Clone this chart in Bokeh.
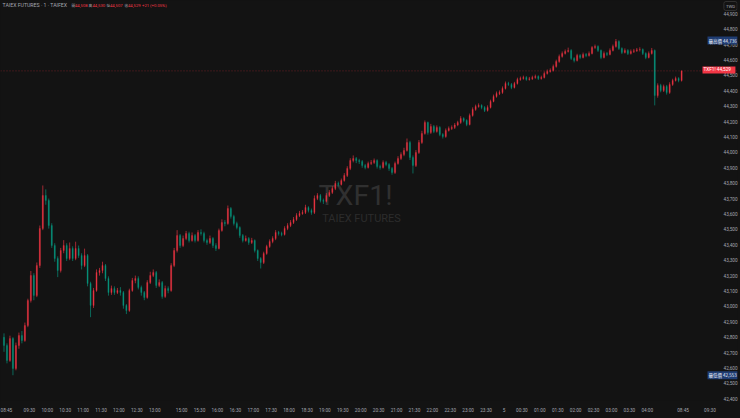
from bokeh.plotting import figure
from bokeh.models import (ColumnDataSource, Range1d, FixedTicker, NumeralTickFormatter,
                          Label, Span, GlobalInlineStyleSheet)
from bokeh.embed import file_html
from bokeh.resources import INLINE

BG = "#131313"
UP = "#f23645"
DOWN = "#089981"
TXT = "#a3a6af"

# ---------------- data: 5-minute candles, TAIEX futures (TXF1!) ----------------
first_open = 42800

day_closes = [42746, 42648, 42791, 42596, 42746, 42811, 42778, 42876, 43038, 43201,
              43071, 43265, 43506, 43720, 43688, 43525, 43395, 43311, 43233, 43363,
              43395, 43311, 43376, 43311, 43376, 43330, 43265, 43330, 43149, 43006,
              43103, 43220, 43233, 43265, 43181, 43090, 43116, 43090, 43103, 43090,
              43006, 42973, 43103, 43168, 43181, 43123, 43090, 43058, 43155, 43201,
              43220, 43136, 43155, 43064, 43116, 43103, 43265, 43363, 43460, 43395]
day_highs = [42825, 42760, 42810, 42800, 42765, 42830, 42840, 42895, 43050, 43230,
             43215, 43285, 43525, 43785, 43760, 43700, 43540, 43410, 43325, 43380,
             43430, 43410, 43415, 43390, 43420, 43395, 43345, 43375, 43340, 43160,
             43120, 43240, 43250, 43290, 43275, 43195, 43135, 43130, 43120, 43125,
             43100, 43015, 43115, 43185, 43200, 43195, 43135, 43100, 43170, 43225,
             43240, 43230, 43175, 43165, 43135, 43130, 43280, 43380, 43495, 43470]
day_lows = [42705, 42630, 42640, 42553, 42585, 42725, 42760, 42770, 42865, 43025,
            43040, 43060, 43250, 43495, 43660, 43505, 43380, 43290, 43190, 43220,
            43345, 43295, 43300, 43295, 43300, 43315, 43240, 43255, 43130, 42930,
            42990, 43095, 43200, 43215, 43165, 43070, 43075, 43075, 43080, 43070,
            42985, 42950, 42965, 43095, 43150, 43110, 43070, 43040, 43050, 43145,
            43190, 43120, 43125, 43050, 43055, 43085, 43095, 43255, 43350, 43380]

night_closes = [43441, 43473, 43428, 43460, 43428, 43480, 43473, 43428, 43415, 43441,
                43395, 43376, 43493, 43545, 43538, 43636, 43584, 43538, 43512, 43460,
                43428, 43441, 43415, 43428, 43363, 43311, 43285, 43343, 43389, 43421,
                43441, 43480, 43473, 43467, 43506, 43525, 43545, 43564, 43590, 43603,
                43610, 43642, 43623, 43610, 43701, 43720, 43688, 43682, 43720, 43740,
                43766, 43798, 43792, 43817, 43850, 43896, 43947, 43960, 43947, 43940,
                43915, 43902, 43928, 43934, 43947, 43908, 43902, 43934, 43921, 43896,
                43869, 43928, 43960, 43986, 44012, 44064, 43967, 43915, 43999, 44064,
                44123, 44194, 44129, 44168, 44136, 44162, 44116, 44103, 44142, 44155,
                44162, 44178, 44194, 44220, 44207, 44181, 44240, 44279, 44298, 44305,
                44292, 44272, 44292, 44331, 44363, 44382, 44389, 44415, 44447, 44441,
                44421, 44447, 44473, 44480, 44486, 44473, 44478, 44486, 44493, 44480,
                44486, 44512, 44525, 44532, 44558, 44590, 44623, 44642, 44655, 44662,
                44610, 44597, 44629, 44616, 44636, 44629, 44642, 44681, 44688, 44662,
                44616, 44642, 44636, 44662, 44688, 44720, 44675, 44649, 44662, 44642,
                44655, 44660, 44666, 44668, 44642, 44616, 44642, 44662, 44369, 44434,
                44402, 44428, 44389, 44441, 44467, 44480, 44467, 44529]
night_highs = [43460, 43490, 43485, 43480, 43470, 43495, 43500, 43485, 43440, 43460,
               43450, 43410, 43505, 43565, 43560, 43655, 43645, 43595, 43550, 43520,
               43470, 43460, 43450, 43445, 43435, 43370, 43320, 43355, 43400, 43435,
               43455, 43495, 43490, 43485, 43520, 43540, 43560, 43580, 43605, 43620,
               43625, 43660, 43650, 43635, 43720, 43735, 43730, 43700, 43735, 43755,
               43780, 43815, 43810, 43830, 43865, 43910, 43962, 43980, 43970, 43958,
               43950, 43925, 43940, 43950, 43960, 43955, 43920, 43948, 43945, 43930,
               43905, 43940, 43975, 44000, 44030, 44090, 44075, 43980, 44015, 44080,
               44140, 44207, 44200, 44185, 44178, 44175, 44170, 44125, 44155, 44168,
               44175, 44190, 44205, 44235, 44228, 44215, 44252, 44292, 44310, 44318,
               44312, 44300, 44305, 44342, 44375, 44395, 44402, 44428, 44460, 44458,
               44450, 44458, 44485, 44492, 44498, 44495, 44490, 44498, 44505, 44500,
               44498, 44525, 44538, 44545, 44570, 44602, 44635, 44655, 44668, 44680,
               44670, 44618, 44640, 44638, 44648, 44645, 44655, 44690, 44700, 44695,
               44668, 44655, 44652, 44675, 44700, 44736, 44728, 44682, 44675, 44670,
               44668, 44672, 44678, 44682, 44675, 44650, 44655, 44678, 44668, 44448,
               44445, 44440, 44438, 44455, 44478, 44492, 44488, 44532]
night_lows = [43385, 43430, 43415, 43420, 43415, 43420, 43460, 43415, 43400, 43405,
              43380, 43360, 43370, 43485, 43520, 43530, 43570, 43525, 43500, 43445,
              43415, 43420, 43400, 43405, 43350, 43295, 43246, 43275, 43335, 43380,
              43410, 43430, 43460, 43455, 43460, 43495, 43515, 43535, 43555, 43580,
              43595, 43600, 43610, 43595, 43600, 43690, 43675, 43665, 43675, 43710,
              43730, 43755, 43778, 43785, 43810, 43840, 43885, 43935, 43930, 43925,
              43900, 43890, 43895, 43918, 43925, 43895, 43888, 43895, 43910, 43880,
              43855, 43860, 43920, 43950, 43975, 44005, 43950, 43863, 43905, 43990,
              44055, 44115, 44115, 44120, 44125, 44128, 44105, 44090, 44095, 44135,
              44145, 44152, 44170, 44185, 44195, 44170, 44175, 44232, 44270, 44290,
              44280, 44262, 44265, 44285, 44325, 44355, 44372, 44380, 44408, 44432,
              44410, 44415, 44440, 44465, 44472, 44465, 44466, 44470, 44478, 44470,
              44472, 44480, 44505, 44518, 44525, 44550, 44582, 44615, 44635, 44648,
              44600, 44584, 44590, 44605, 44610, 44618, 44622, 44636, 44672, 44652,
              44605, 44610, 44625, 44630, 44655, 44680, 44665, 44638, 44642, 44632,
              44635, 44645, 44652, 44655, 44632, 44605, 44610, 44635, 44305, 44355,
              44390, 44392, 44375, 44380, 44432, 44460, 44455, 44460]

# y axis ticks
y_ticks = [42400, 42500, 42600, 42700, 42800, 42900, 43000, 43100, 43200, 43300,
           43400, 43500, 43600, 43700, 43800, 43900, 44000, 44100, 44200, 44300,
           44400, 44500, 44600, 44700, 44800, 44900]

# time axis ticks: (clock, session, label)
tick_clock = ["08:45", "09:30", "10:00", "10:30", "11:00", "11:30", "12:00", "12:30", "13:00",
              "15:00", "15:30", "16:00", "16:30", "17:00", "17:30", "18:00", "18:30", "19:00",
              "19:30", "20:00", "20:30", "21:00", "21:30", "22:00", "22:30", "23:00", "23:30",
              "00:00", "00:30", "01:00", "01:30", "02:00", "02:30", "03:00", "03:30", "04:00",
              "08:45", "09:30"]
tick_session = ["day1"] * 9 + ["night"] * 27 + ["day2"] * 2
tick_labels = ["08:45", "09:30", "10:00", "10:30", "11:00", "11:30", "12:00", "12:30", "13:00",
               "15:00", "15:30", "16:00", "16:30", "17:00", "17:30", "18:00", "18:30", "19:00",
               "19:30", "20:00", "20:30", "21:00", "21:30", "22:00", "22:30", "23:00", "23:30",
               "5", "00:30", "01:00", "01:30", "02:00", "02:30", "03:00", "03:30", "04:00",
               "08:45", "09:30"]

legend_texts = ["TAIEX FUTURES · 1 · TAIFEX", "開", "44,508", "高", "44,530",
                "低", "44,507", "收", "44,529", "+21 (+0.05%)"]
last_price = 44529
session_high = 44736
session_low = 42553

# ---------------- build candles ----------------
closes = day_closes + night_closes
highs = day_highs + night_highs
lows = day_lows + night_lows
opens = [first_open] + closes[:-1]
idx = list(range(len(closes)))
colors = [UP if c >= o else DOWN for o, c in zip(opens, closes)]
src = ColumnDataSource(dict(j=idx, open=opens, close=closes, high=highs, low=lows,
                            top=[max(o, c) for o, c in zip(opens, closes)],
                            bottom=[min(o, c) for o, c in zip(opens, closes)],
                            color=colors))


def session_min(clock, session):
    h, m = map(int, clock.split(":"))
    t = h * 60 + m
    if session == "day1":
        return t - 525
    if session == "night":
        return 300 + ((t - 900) % 1440)
    return 1140 + (t - 525)


tick_pos = [session_min(c, s) / 5 - 0.5 for c, s in zip(tick_clock, tick_session)]

p = figure(width=740, height=418, x_range=Range1d(-1.17, 245.73), y_range=Range1d(42389, 44986),
           y_axis_location="right", output_backend="svg", toolbar_location=None,
           min_border_left=0, min_border_top=0, min_border_right=3, min_border_bottom=18,
           background_fill_color=BG, border_fill_color=BG, outline_line_color=None)
p.stylesheets = [GlobalInlineStyleSheet(css="html, body { background: #131313; }")]
p.grid.visible = False

for ax in (p.xaxis[0], p.yaxis[0]):
    ax.axis_line_color = None
    ax.major_tick_line_color = None
    ax.minor_tick_line_color = None
    ax.major_tick_out = 0
    ax.major_tick_in = 0
    ax.minor_tick_out = 0
    ax.major_label_text_color = TXT
    ax.major_label_text_font = "Roboto"
    ax.major_label_text_font_size = "4.7px"

p.yaxis.ticker = FixedTicker(ticks=y_ticks)
p.yaxis.formatter = NumeralTickFormatter(format="0,0")
p.yaxis.major_label_standoff = -14
p.xaxis.ticker = FixedTicker(ticks=tick_pos)
p.xaxis.major_label_overrides = {pos: lab for pos, lab in zip(tick_pos, tick_labels)}
p.xaxis.major_label_standoff = 7

# watermark
p.add_layout(Label(x=355, y=205, x_units="screen", y_units="screen", text="TXF1!",
                   text_font="Roboto", text_font_size="28.5px", text_color="#303030",
                   text_align="center", text_baseline="middle", level="underlay"))
p.add_layout(Label(x=361, y=182, x_units="screen", y_units="screen", text="TAIEX FUTURES",
                   text_font="Roboto", text_font_size="11px", text_color="#2c2c2c",
                   text_align="center", text_baseline="middle", level="underlay"))

# candles
p.segment(x0="j", y0="low", x1="j", y1="high", line_color="color", line_width=0.8,
          line_alpha=0.8, source=src)
p.vbar(x="j", width=0.4, top="top", bottom="bottom", fill_color="color", fill_alpha=0.8,
       line_color="color", line_alpha=0.8, line_width=0.3, source=src)

# last price line
p.add_layout(Span(location=last_price, dimension="width", line_color=UP, line_alpha=0.4,
                  line_dash="1 2", line_width=1))

# price scale labels
p.add_layout(Label(x=707, y=session_high, y_offset=-1.5, x_units="screen",
                   text="最高價 " + f"{session_high:,}",
                   text_font="Noto Sans CJK TC", text_font_size="4.5px", text_color="#e8ecf5",
                   text_baseline="middle", background_fill_color="#1f3c72", padding=1))
p.add_layout(Label(x=707, y=session_low, x_units="screen", text="最低價 " + f"{session_low:,}",
                   text_font="Noto Sans CJK TC", text_font_size="4.5px", text_color="#e8ecf5",
                   text_baseline="middle", background_fill_color="#1f3c72", padding=1))
p.add_layout(Label(x=702, y=last_price, y_offset=1, x_units="screen",
                   text="TXF1!    " + f"{last_price:,}",
                   text_font="Roboto", text_font_size="4.7px", text_color="#ffffff",
                   text_baseline="middle", background_fill_color=UP, padding=1))
p.add_layout(Label(x=730, y=394.5, x_units="screen", y_units="screen", text="TWD",
                   text_font="Roboto", text_font_size="4.3px", text_color=TXT,
                   text_align="center", text_baseline="middle",
                   border_line_color="#3a3a3a", border_line_width=0.8,
                   background_fill_color=BG, padding=2, border_radius=2))

# legend row
legend_x = [2, 71, 74.5, 88, 92, 106, 109.5, 124, 127.5, 141.5]
legend_col = [TXT, TXT, UP, TXT, UP, TXT, UP, TXT, UP, UP]
legend_size = ["5.2px", "3.8px", "4.2px", "3.8px", "4.2px", "3.8px", "4.2px", "3.8px", "4.2px", "4.2px"]
for t, xx, col, fs in zip(legend_texts, legend_x, legend_col, legend_size):
    font = "Noto Sans CJK TC" if t in ("開", "高", "低", "收") else "Roboto"
    p.add_layout(Label(x=xx, y=395.5, x_units="screen", y_units="screen", text=t,
                       text_font=font, text_font_size=fs, text_color=col,
                       text_baseline="middle"))

open("out.html", "w").write(file_html(p, INLINE))
